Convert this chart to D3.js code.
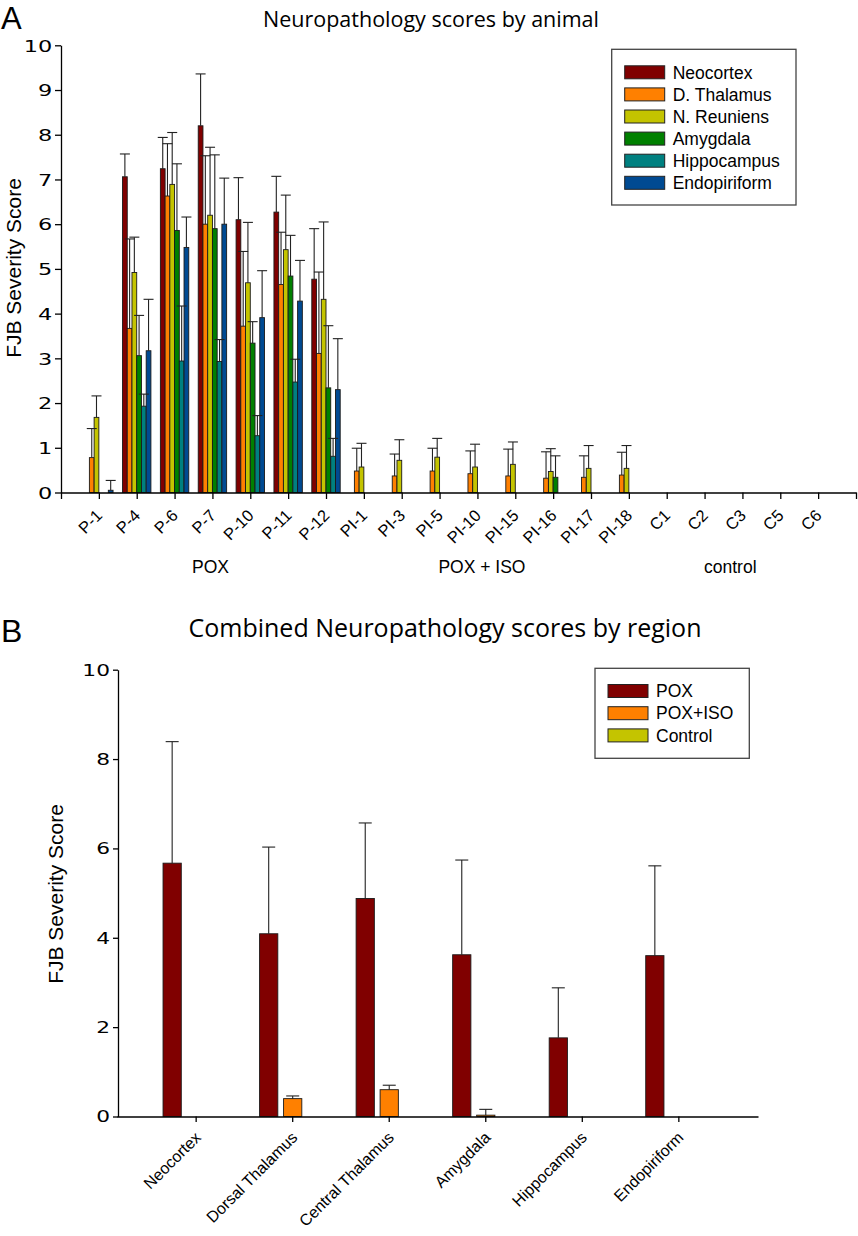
<!DOCTYPE html>
<html>
<head>
<meta charset="utf-8">
<script src="https://cdn.jsdelivr.net/npm/d3@7"></script>
<style>
body { margin: 0; background: #fff; }
text { font-family: "Liberation Sans", Arial, sans-serif; fill: #000; }
.title { font-family: "Open Sans", sans-serif; }
</style>
</head>
<body>
<div class="figure"></div>
<script>
/*
----------------------------------------------------------
                   data, panel A
----------------------------------------------------------
*/
var animals = ["P-1", "P-4", "P-6", "P-7", "P-10", "P-11", "P-12",
               "PI-1", "PI-3", "PI-5", "PI-10", "PI-15", "PI-16", "PI-17", "PI-18",
               "C1", "C2", "C3", "C5", "C6"];
var regionsA = ["Neocortex", "D. Thalamus", "N. Reuniens", "Amygdala", "Hippocampus", "Endopiriform"];
var colorsA = ["#800000", "#ff8000", "#c4c400", "#008000", "#008080", "#004a92"];

var neocortex       = [0, 7.06, 7.24, 8.20, 6.10, 6.27, 4.77, 0, 0, 0, 0, 0, 0, 0, 0, 0, 0, 0, 0, 0];
var neocortexErr    = [0, 0.51, 0.70, 1.16, 0.94, 0.80, 1.13, 0, 0, 0, 0, 0, 0, 0, 0, 0, 0, 0, 0, 0];
var dThalamus       = [0.78, 3.67, 6.63, 6.00, 3.72, 4.65, 3.11, 0.48, 0.37, 0.48, 0.42, 0.37, 0.32, 0.34, 0.39, 0, 0, 0, 0, 0];
var dThalamusErr    = [0.65, 2.00, 1.17, 1.53, 1.67, 1.17, 1.82, 0.51, 0.49, 0.51, 0.51, 0.60, 0.59, 0.48, 0.51, 0, 0, 0, 0, 0];
var nReuniens       = [1.68, 4.92, 6.89, 6.20, 4.69, 5.43, 4.32, 0.57, 0.72, 0.79, 0.57, 0.63, 0.47, 0.54, 0.54, 0, 0, 0, 0, 0];
var nReuniensErr    = [0.48, 0.79, 1.16, 1.52, 1.35, 1.22, 1.73, 0.53, 0.46, 0.42, 0.51, 0.50, 0.51, 0.51, 0.51, 0, 0, 0, 0, 0];
var amygdala        = [0, 3.06, 5.86, 5.90, 3.34, 4.84, 2.34, 0, 0, 0, 0, 0, 0.34, 0, 0, 0, 0, 0, 0, 0];
var amygdalaErr     = [0, 0.90, 1.49, 1.65, 0.48, 0.91, 1.39, 0, 0, 0, 0, 0, 0.48, 0, 0, 0, 0, 0, 0, 0];
var hippocampus     = [0, 1.93, 2.94, 2.93, 1.27, 2.47, 0.81, 0, 0, 0, 0, 0, 0, 0, 0, 0, 0, 0, 0, 0];
var hippocampusErr  = [0, 0.27, 1.23, 0.49, 0.45, 0.51, 0.40, 0, 0, 0, 0, 0, 0, 0, 0, 0, 0, 0, 0, 0];
var endopiriform    = [0.05, 3.17, 5.48, 6.00, 3.91, 4.28, 2.30, 0, 0, 0, 0, 0, 0, 0, 0, 0, 0, 0, 0, 0];
var endopiriformErr = [0.22, 1.15, 0.68, 1.03, 1.05, 0.91, 1.14, 0, 0, 0, 0, 0, 0, 0, 0, 0, 0, 0, 0, 0];

var groupLabels  = ["POX", "POX + ISO", "control"];
var groupCenters = [3.95, 11.12, 17.68];
var yTicksA = [0, 1, 2, 3, 4, 5, 6, 7, 8, 9, 10];

/*
----------------------------------------------------------
                   data, panel B
----------------------------------------------------------
*/
var regionsB = ["Neocortex", "Dorsal Thalamus", "Central Thalamus", "Amygdala", "Hippocampus", "Endopiriform"];
var treatments = ["POX", "POX+ISO", "Control"];
var colorsB = ["#800000", "#ff8000", "#c4c400"];

var pox        = [5.67, 4.09, 4.88, 3.62, 1.76, 3.60];
var poxErr     = [2.72, 1.94, 1.69, 2.12, 1.12, 2.01];
var poxIso     = [0, 0.40, 0.60, 0.03, 0, 0];
var poxIsoErr  = [0, 0.06, 0.10, 0.13, 0, 0];
var control    = [0, 0, 0, 0, 0, 0];
var controlErr = [0, 0, 0, 0, 0, 0];
var yTicksB = [0, 2, 4, 6, 8, 10];

/*
----------------------------------------------------------
                   helpers
----------------------------------------------------------
*/
var svg = d3.select(".figure").append("svg")
    .attr("width", 858)
    .attr("height", 1236);

function styleAxis(g) {
    g.attr("font-family", null).attr("font-size", null);
    g.selectAll(".domain, .tick line").attr("stroke", "#000").attr("stroke-width", 1.3);
}

function stretchTicks(g, size, gap, sx) {
    g.selectAll(".tick text")
        .style("font-family", "'DejaVu Sans', sans-serif")
        .style("font-size", size + "px")
        .attr("x", -gap / sx)
        .attr("dy", "0.36em")
        .attr("transform", "scale(" + sx + ",1)");
}

function rotateTicks(g, size, dx, dy) {
    g.selectAll(".tick text")
        .style("font-size", size + "px")
        .attr("text-anchor", "end")
        .attr("x", 0).attr("y", 0).attr("dy", 0)
        .attr("transform", "translate(" + dx + "," + dy + ") rotate(-45)");
}

function drawBars(layer, series, xPos, width, y) {
    series.forEach(function(s) {
        var pts = s.values.map(function(v, i) { return {v: v, e: s.errs[i], i: i}; })
                          .filter(function(d) { return d.v > 0; });
        layer.append("g").selectAll("rect").data(pts).enter()
            .append("rect")
                .attr("x", function(d) { return xPos(d.i, s.name); })
                .attr("y", function(d) { return y(d.v); })
                .attr("width", width)
                .attr("height", function(d) { return y(0) - y(d.v); })
                .attr("fill", s.color)
                .attr("stroke", "#1a1a1a")
                .attr("stroke-width", 0.9);
        s.pts = pts;
    });
}

function drawErrors(layer, series, xPos, width, y, cap) {
    series.forEach(function(s) {
        var g = layer.append("g").attr("stroke", "#222").attr("stroke-width", 1.1);
        s.pts.filter(function(d) { return d.e > 0; }).forEach(function(d) {
            var cx = xPos(d.i, s.name) + width / 2;
            g.append("line").attr("x1", cx).attr("x2", cx)
                .attr("y1", y(d.v)).attr("y2", y(d.v + d.e));
            g.append("line").attr("x1", cx - cap / 2).attr("x2", cx + cap / 2)
                .attr("y1", y(d.v + d.e)).attr("y2", y(d.v + d.e));
        });
    });
}

function drawLegend(x0, y0, w, h, names, colors, rowY, step) {
    var g = svg.append("g").attr("class", "legend");
    g.append("rect").attr("x", x0).attr("y", y0).attr("width", w).attr("height", h)
        .attr("fill", "#fff").attr("stroke", "#444").attr("stroke-width", 1.3);
    names.forEach(function(n, i) {
        var cy = rowY + i * step;
        g.append("rect").attr("x", x0 + 13).attr("y", cy - 6.5).attr("width", 40).attr("height", 13)
            .attr("fill", colors[i]).attr("stroke", "#222").attr("stroke-width", 1);
        g.append("text").attr("x", x0 + 61).attr("y", cy + 6.2)
            .style("font-size", "17.5px").text(n);
    });
}

/*
----------------------------------------------------------
                   panel A
----------------------------------------------------------
*/
var xA = d3.scaleLinear().domain([0, 21]).range([61, 856]);
var yA = d3.scaleLinear().domain([0, 10]).range([492.5, 45.3]);
var innerA = d3.scaleBand().domain(regionsA).range([-14.2, 14.2]);

var seriesA = [
    {name: regionsA[0], values: neocortex,    errs: neocortexErr,    color: colorsA[0]},
    {name: regionsA[1], values: dThalamus,    errs: dThalamusErr,    color: colorsA[1]},
    {name: regionsA[2], values: nReuniens,    errs: nReuniensErr,    color: colorsA[2]},
    {name: regionsA[3], values: amygdala,     errs: amygdalaErr,     color: colorsA[3]},
    {name: regionsA[4], values: hippocampus,  errs: hippocampusErr,  color: colorsA[4]},
    {name: regionsA[5], values: endopiriform, errs: endopiriformErr, color: colorsA[5]}
];
function posA(i, name) { return xA(i + 1) + innerA(name); }

var panelA = svg.append("g").attr("class", "panelA");
drawBars(panelA, seriesA, posA, innerA.bandwidth(), yA);
drawErrors(panelA, seriesA, posA, innerA.bandwidth(), yA, 10);

panelA.append("g")
    .attr("transform", "translate(61,0)")
    .call(d3.axisLeft(yA).tickValues(yTicksA).tickSize(6).tickSizeOuter(0))
    .call(styleAxis)
    .call(stretchTicks, 16, 8.7, 1.4);

panelA.append("g")
    .attr("transform", "translate(0," + yA(0) + ")")
    .call(d3.axisBottom(xA).tickValues(d3.range(22)).tickSize(6.5).tickSizeOuter(0)
            .tickFormat(function(d) { return animals[d - 1] || ""; }))
    .call(styleAxis)
    .call(rotateTicks, 16.5, 4, 24);

panelA.selectAll(".group").data(groupLabels).enter()
    .append("text")
        .attr("x", function(d, i) { return xA(groupCenters[i]); })
        .attr("y", 573)
        .attr("text-anchor", "middle")
        .style("font-size", "17.5px")
        .text(function(d) { return d; });

panelA.append("text").attr("class", "title")
    .attr("x", 431).attr("y", 27.3).attr("text-anchor", "middle")
    .style("font-size", "21.5px").text("Neuropathology scores by animal");

panelA.append("text")
    .attr("transform", "translate(20.5,268) rotate(-90)").attr("text-anchor", "middle")
    .style("font-size", "21px").text("FJB Severity Score");

panelA.append("text").attr("x", 1).attr("y", 29)
    .style("font-size", "31px").text("A");

drawLegend(611.7, 49.3, 184.3, 155.7, regionsA, colorsA, 72.3, 22.1);

/*
----------------------------------------------------------
                   panel B
----------------------------------------------------------
*/
var xB = d3.scaleBand().domain(regionsB).range([117, 758]).paddingOuter(0.32).paddingInner(0);
var yB = d3.scaleLinear().domain([0, 10]).range([1116.5, 669.7]);
var innerB = d3.scaleBand().domain(treatments).range([-36, 36]).paddingInner(0.24).paddingOuter(0.12);

var seriesB = [
    {name: treatments[0], values: pox,     errs: poxErr,     color: colorsB[0]},
    {name: treatments[1], values: poxIso,  errs: poxIsoErr,  color: colorsB[1]},
    {name: treatments[2], values: control, errs: controlErr, color: colorsB[2]}
];
function posB(i, name) { return xB(regionsB[i]) + xB.bandwidth() / 2 + innerB(name); }

var panelB = svg.append("g").attr("class", "panelB");
drawBars(panelB, seriesB, posB, innerB.bandwidth(), yB);
drawErrors(panelB, seriesB, posB, innerB.bandwidth(), yB, 13);

panelB.append("g")
    .attr("transform", "translate(118,0)")
    .call(d3.axisLeft(yB).tickValues(yTicksB).tickSize(5).tickSizeOuter(0))
    .call(styleAxis)
    .call(stretchTicks, 15, 8, 1.45);

// labels kept a bit smaller than the source so "Central Thalamus" stays on the page
panelB.append("g")
    .attr("transform", "translate(0," + yB(0) + ")")
    .call(d3.axisBottom(xB).tickSize(5.5).tickSizeOuter(0))
    .call(styleAxis)
    .call(rotateTicks, 16, 5.7, 22);

panelB.append("text").attr("class", "title")
    .attr("x", 445).attr("y", 636.5).attr("text-anchor", "middle")
    .style("font-size", "25px").text("Combined Neuropathology scores by region");

panelB.append("text")
    .attr("transform", "translate(63,894) rotate(-90)").attr("text-anchor", "middle")
    .style("font-size", "21px").text("FJB Severity Score");

panelB.append("text").attr("x", 1).attr("y", 641.7)
    .style("font-size", "32px").text("B");

drawLegend(595, 668.3, 154.3, 90, treatments, colorsB, 691, 22.2);
</script>
</body>
</html>
